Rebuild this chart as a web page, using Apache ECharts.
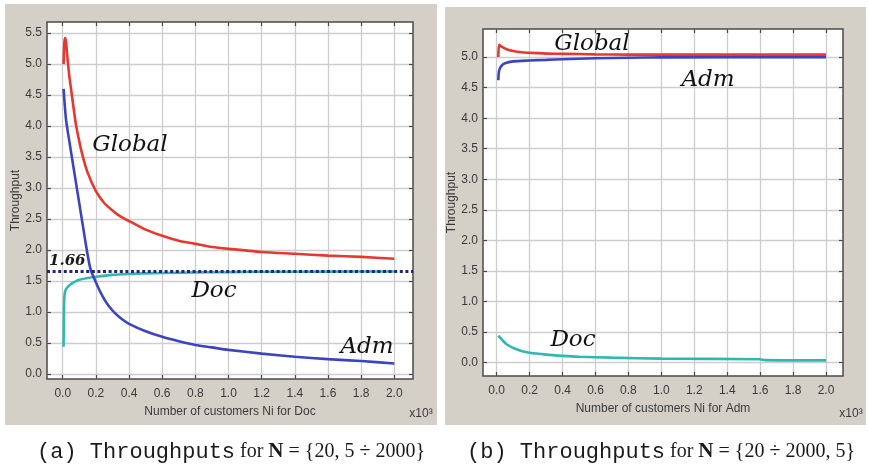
<!DOCTYPE html>
<html>
<head>
<meta charset="utf-8">
<script src="https://cdn.jsdelivr.net/npm/echarts@6/dist/echarts.min.js"></script>
<style>
  html, body { margin: 0; padding: 0; background: #ffffff; }
  #chart { width: 869px; height: 466px; }
</style>
</head>
<body>
<div id="chart"></div>
<script>
// ---------- DATA (x in thousands of customers) ----------
// Panel (a): N = {20, 5 ÷ 2000}, x = customers Ni for Doc
const aGlobalX = [0.005, 0.01, 0.015, 0.02, 0.025, 0.03, 0.04, 0.05, 0.065, 0.08, 0.1, 0.12, 0.15, 0.2, 0.25, 0.3, 0.35, 0.45, 0.5, 0.6, 0.7, 0.8, 0.9, 1.0, 1.2, 1.4, 1.6, 1.8, 2.0];
const aGlobalY = [5.0, 5.35, 5.42, 5.35, 5.2, 5.05, 4.8, 4.6, 4.3, 4.02, 3.75, 3.52, 3.25, 2.95, 2.76, 2.64, 2.54, 2.4, 2.33, 2.23, 2.15, 2.1, 2.05, 2.02, 1.97, 1.94, 1.91, 1.89, 1.86];

const aAdmX = [0.005, 0.02, 0.04, 0.055, 0.07, 0.085, 0.1, 0.115, 0.13, 0.145, 0.16, 0.17, 0.19, 0.22, 0.25, 0.28, 0.32, 0.36, 0.4, 0.5, 0.6, 0.7, 0.8, 0.9, 1.0, 1.2, 1.4, 1.6, 1.8, 2.0];
const aAdmY = [4.6, 4.1, 3.75, 3.5, 3.25, 3.0, 2.75, 2.5, 2.25, 2.0, 1.78, 1.67, 1.54, 1.36, 1.21, 1.09, 0.97, 0.88, 0.81, 0.69, 0.6, 0.53, 0.47, 0.43, 0.39, 0.33, 0.28, 0.24, 0.21, 0.17];

const aDocX = [0.005, 0.008, 0.012, 0.02, 0.04, 0.06, 0.08, 0.1, 0.15, 0.2, 0.3, 0.4, 0.5, 0.6, 0.8, 1.0, 1.2, 1.6, 2.0];
const aDocY = [0.44, 1.1, 1.3, 1.37, 1.43, 1.47, 1.5, 1.52, 1.55, 1.57, 1.6, 1.615, 1.625, 1.63, 1.64, 1.645, 1.65, 1.652, 1.655];

const aLimit = 1.66;

// Panel (b): N = {20 ÷ 2000, 5}, x = customers Ni for Adm
const bGlobalX = [0.01, 0.015, 0.03, 0.06, 0.1, 0.15, 0.25, 0.35, 0.5, 0.6, 0.8, 1.0, 2.0];
const bGlobalY = [5.0, 5.2, 5.17, 5.13, 5.1, 5.08, 5.065, 5.055, 5.05, 5.045, 5.04, 5.04, 5.04];

const bAdmX = [0.01, 0.015, 0.03, 0.05, 0.1, 0.2, 0.3, 0.4, 0.6, 0.8, 1.0, 2.0];
const bAdmY = [4.62, 4.78, 4.86, 4.9, 4.93, 4.945, 4.955, 4.965, 4.98, 4.99, 4.995, 5.0];

const bDocX = [0.01, 0.03, 0.06, 0.1, 0.15, 0.2, 0.3, 0.4, 0.5, 0.7, 1.0, 1.6, 1.63, 2.0];
const bDocY = [0.44, 0.38, 0.3, 0.24, 0.19, 0.16, 0.13, 0.11, 0.095, 0.08, 0.065, 0.055, 0.04, 0.035];

// Tick values
const xTicks = [0, 0.2, 0.4, 0.6, 0.8, 1.0, 1.2, 1.4, 1.6, 1.8, 2.0];
const aYTicks = [0, 0.5, 1.0, 1.5, 2.0, 2.5, 3.0, 3.5, 4.0, 4.5, 5.0, 5.5];
const bYTicks = [0, 0.5, 1.0, 1.5, 2.0, 2.5, 3.0, 3.5, 4.0, 4.5, 5.0];

const xName = ['Number of customers Ni for Doc', 'Number of customers Ni for Adm'];
const yName = 'Throughput';

// ---------- STYLE ----------
const C_GLOBAL = '#e8372f';
const C_ADM = '#3c43c0';
const C_DOC = '#2fb8b2';
const C_LIMIT = '#1f2680';
const C_PANEL = '#d4d0c8';
const C_GRID = '#cdcdcd';
const C_BORDER = '#4a4a4a';
const C_LABEL = '#3a3a3a';
const SANS = 'Liberation Sans, Arial, sans-serif';
const HAND = 'DejaVu Serif, serif';

const zip = (xs, ys) => xs.map((x, i) => [x, ys[i]]);

const grids = [
  { left: 47, top: 22, width: 366, height: 357 },
  { left: 483, top: 29, width: 360, height: 347 }
];
const xRange = [[-0.095, 2.113], [-0.083, 2.103]];
const yRange = [[-0.08, 5.68], [-0.22, 5.46]];
const yTicks = [aYTicks, bYTicks];
const yNameGap = [25, 23];

const tickStyle = { color: C_BORDER, width: 1.2 };
const xAxes = [], yAxes = [];
for (let g = 0; g < 2; g++) {
  xAxes.push({
    type: 'value', gridIndex: g, position: 'bottom',
    min: xRange[g][0], max: xRange[g][1],
    name: xName[g], nameLocation: 'middle', nameGap: 27,
    nameTextStyle: { fontFamily: SANS, fontSize: 12, color: C_LABEL },
    axisLine: { show: false, onZero: false },
    axisTick: { show: true, inside: true, length: 4, customValues: xTicks, lineStyle: tickStyle },
    axisLabel: { show: true, customValues: xTicks, margin: 9, fontFamily: SANS, fontSize: 12, color: C_LABEL,
                 formatter: v => v.toFixed(1) },
    splitLine: { show: true, lineStyle: { color: C_GRID, width: 1.3 } }
  });
  xAxes.push({
    type: 'value', gridIndex: g, position: 'top',
    min: xRange[g][0], max: xRange[g][1],
    axisLine: { show: false, onZero: false },
    axisTick: { show: true, inside: true, length: 4, customValues: xTicks, lineStyle: tickStyle },
    axisLabel: { show: false },
    splitLine: { show: false }
  });
  yAxes.push({
    type: 'value', gridIndex: g, position: 'left',
    min: yRange[g][0], max: yRange[g][1],
    name: yName, nameLocation: 'middle', nameGap: yNameGap[g], nameRotate: 90,
    nameTextStyle: { fontFamily: SANS, fontSize: 12, color: C_LABEL },
    axisLine: { show: false, onZero: false },
    axisTick: { show: true, inside: true, length: 4, customValues: yTicks[g], lineStyle: tickStyle },
    axisLabel: { show: true, customValues: yTicks[g], margin: 5, fontFamily: SANS, fontSize: 12, color: C_LABEL,
                 formatter: v => v.toFixed(1) },
    splitLine: { show: true, lineStyle: { color: C_GRID, width: 1.3 } }
  });
  yAxes.push({
    type: 'value', gridIndex: g, position: 'right',
    min: yRange[g][0], max: yRange[g][1],
    axisLine: { show: false, onZero: false },
    axisTick: { show: true, inside: true, length: 4, customValues: yTicks[g], lineStyle: tickStyle },
    axisLabel: { show: false },
    splitLine: { show: false }
  });
}

function line(name, data, color, g, extra) {
  return Object.assign({
    type: 'line', name, data, xAxisIndex: g * 2, yAxisIndex: g * 2,
    showSymbol: false, symbol: 'none', smooth: 0.25, z: 3,
    lineStyle: { color, width: 2.6 }, silent: true, animation: false
  }, extra || {});
}

const series = [
  line('Global', zip(aGlobalX, aGlobalY), C_GLOBAL, 0),
  line('Doc', zip(aDocX, aDocY), C_DOC, 0, {
    markLine: {
      silent: true, symbol: ['none', 'none'], animation: false,
      lineStyle: { color: C_LIMIT, type: [3, 2.6], width: 3.2 },
      label: { show: true, position: 'insideStartTop', formatter: String(aLimit), distance: [2, 3],
               fontFamily: HAND, fontStyle: 'italic', fontWeight: 'bold', fontSize: 15, color: '#1a1a1a' },
      data: [{ yAxis: aLimit }]
    }
  }),
  line('Adm', zip(aAdmX, aAdmY), C_ADM, 0),
  line('Doc', zip(bDocX, bDocY), C_DOC, 1),
  line('Adm', zip(bAdmX, bAdmY), C_ADM, 1),
  line('Global', zip(bGlobalX, bGlobalY), C_GLOBAL, 1)
];

function hand(text, x, y) {
  return { type: 'text', x, y, z: 50, silent: true,
    style: { text, fontFamily: HAND, fontStyle: 'italic', fontSize: 23, fill: '#111', align: 'center', verticalAlign: 'middle' } };
}
function caption(letter, setText, x) {
  return { type: 'text', x, y: 452, z: 50, silent: true,
    style: {
      text: '{m|(' + letter + ') Throughputs} {s|for} {b|N} {s|= ' + setText + '}',
      align: 'center', verticalAlign: 'middle',
      fontFamily: 'Liberation Serif, serif', fontSize: 20, fill: '#1a1a1a',
      rich: {
        m: { fontFamily: 'Liberation Mono, monospace', fontSize: 22, fill: '#1a1a1a' },
        s: { fontFamily: 'Liberation Serif, serif', fontSize: 20, fill: '#1a1a1a' },
        b: { fontFamily: 'Liberation Serif, serif', fontSize: 21, fontWeight: 'bold', fill: '#1a1a1a' }
      }
    } };
}
function exp(x) {
  return { type: 'text', x, y: 414, z: 50, silent: true,
    style: { text: 'x10³', fontFamily: SANS, fontSize: 12, fill: C_LABEL, align: 'center', verticalAlign: 'middle' } };
}

const option = {
  animation: false,
  backgroundColor: '#ffffff',
  grid: grids.map(g => Object.assign({ show: true, backgroundColor: '#ffffff', borderColor: C_BORDER, borderWidth: 1.5, containLabel: false }, g)),
  xAxis: xAxes,
  yAxis: yAxes,
  series,
  graphic: [
    { type: 'rect', z: -10, silent: true, shape: { x: 5, y: 4, width: 432, height: 421 }, style: { fill: C_PANEL } },
    { type: 'rect', z: -10, silent: true, shape: { x: 445, y: 7, width: 421, height: 418 }, style: { fill: C_PANEL } },
    hand('Global', 130, 145),
    hand('Doc', 214, 291),
    hand('Adm', 367, 347),
    hand('Global', 592, 44),
    hand('Adm', 708, 80),
    hand('Doc', 573, 340),
    exp(421),
    exp(851),
    caption('a', '{20, 5 ÷ 2000}', 231),
    caption('b', '{20 ÷ 2000, 5}', 661)
  ]
};

const chart = echarts.init(document.getElementById('chart'), null, { renderer: 'canvas' });
chart.setOption(option);
</script>
</body>
</html>
